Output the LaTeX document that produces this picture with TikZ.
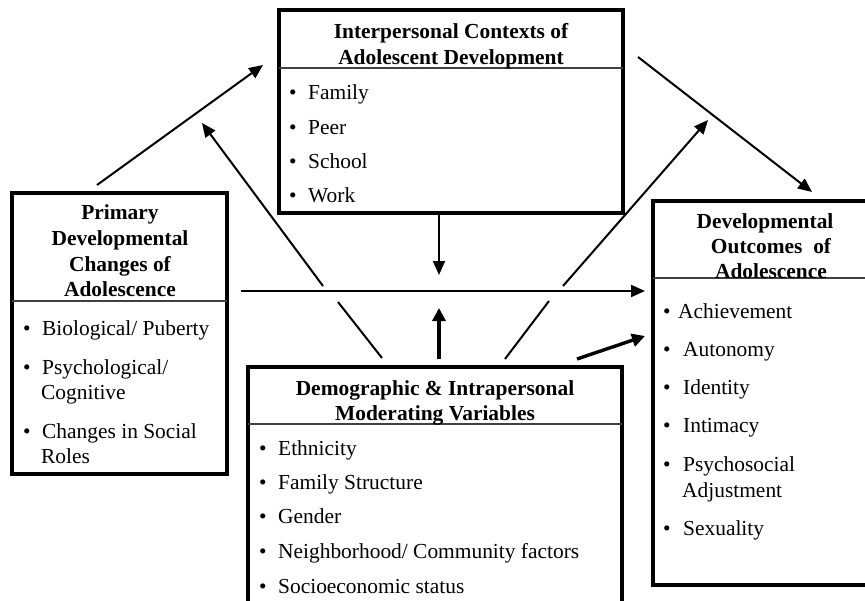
\documentclass[tikz,border=0pt]{standalone}
\usepackage{fontspec}
\setmainfont{Liberation Serif}
\usetikzlibrary{arrows.meta}

\tikzset{
  frame/.style={draw=black, line width=3.4bp, fill=white, rectangle, inner sep=0pt, outer sep=0pt, anchor=north west},
  rule/.style={draw=black!75, line width=1.2bp},
  ttl/.style={inner sep=0pt, anchor=base, font=\fontsize{21.5}{25}\selectfont\bfseries},
  itm/.style={inner sep=0pt, anchor=base west, font=\fontsize{21.5}{25}\selectfont},
  link/.style={line width=2bp, -{Triangle[length=14bp,width=12bp]}},
  plain/.style={line width=2bp},
  heavy/.style={line width=3.4bp, -{Triangle[length=13bp,width=13bp]}},
}
\newcommand{\bul}[1][19bp]{\makebox[#1][l]{\textbullet}}

\begin{document}
\begin{tikzpicture}[x=1bp, y=-1bp]
\useasboundingbox (0,0) rectangle (865,601);
\clip (0,0) rectangle (865,601);

% ---- boxes ----
\node[frame, minimum width=344bp, minimum height=203bp] (ctx) at (279,10) {};
\node[frame, minimum width=215bp, minimum height=281bp] (prim) at (12,193) {};
\node[frame, minimum width=230bp, minimum height=384bp] (outc) at (653,201) {};
\node[frame, minimum width=374bp, minimum height=260bp] (demo) at (248,367) {};

% header separators
\draw[rule] (ctx.west |- 0,68) -- (ctx.east |- 0,68);
\draw[rule] (prim.west |- 0,301) -- (prim.east |- 0,301);
\draw[rule] (outc.west |- 0,278) -- (outc.east |- 0,278);
\draw[rule] (demo.west |- 0,424) -- (demo.east |- 0,424);

% ---- interpersonal contexts ----
\node[ttl] (ctxA) at (451,39) {Interpersonal Contexts of};
\node[ttl] (ctxB) at (451,64.5) {Adolescent Development};
\node[itm] (ctx1) at (289,100) {\bul Family};
\node[itm] (ctx2) at (289,134.3) {\bul Peer};
\node[itm] (ctx3) at (289,168.6) {\bul School};
\node[itm] (ctx4) at (289,203) {\bul Work};

% ---- primary changes ----
\node[ttl] (primA) at (120,220) {Primary};
\node[ttl] (primB) at (120,245.5) {Developmental};
\node[ttl] (primC) at (120,271) {Changes of};
\node[ttl] (primD) at (120,296.5) {Adolescence};
\node[itm] (prim1) at (23,335) {\bul Biological/ Puberty};
\node[itm] (prim2) at (23,374.5) {\bul Psychological/};
\node[itm] (prim2b) at (41,399) {Cognitive};
\node[itm] (prim3) at (23,438.5) {\bul Changes in Social};
\node[itm] (prim3b) at (41,463.5) {Roles};

% ---- outcomes ----
\node[ttl] (outA) at (765,229) {Developmental};
\node[ttl] (outB) at (771,254) {Outcomes\ \ of};
\node[ttl] (outC) at (771,278.5) {Adolescence};
\node[itm] (out1) at (663,318) {\bul[15bp]Achievement};
\node[itm] (out2) at (663,356) {\bul[20bp]Autonomy};
\node[itm] (out3) at (663,394) {\bul[20bp]Identity};
\node[itm] (out4) at (663,432.5) {\bul[20bp]Intimacy};
\node[itm] (out5) at (663,471.5) {\bul[20bp]Psychosocial};
\node[itm] (out5b) at (682,497) {Adjustment};
\node[itm] (out6) at (663,535) {\bul[20bp]Sexuality};

% ---- moderating variables ----
\node[ttl] (demA) at (435,395) {Demographic \& Intrapersonal};
\node[ttl] (demB) at (435,420) {Moderating Variables};
\node[itm] (dem1) at (259,455) {\bul Ethnicity};
\node[itm] (dem2) at (259,489) {\bul Family Structure};
\node[itm] (dem3) at (259,523.5) {\bul Gender};
\node[itm] (dem4) at (259,558.5) {\bul Neighborhood/ Community factors};
\node[itm] (dem5) at (259,593.5) {\bul Socioeconomic status};

% ---- connector end points ----
\coordinate (pOut) at (97,185);
\coordinate (cIn) at (263,65);
\coordinate (cOut) at (638,57);
\coordinate (oIn) at (812,192);
\coordinate (mainS) at (241,291);
\coordinate (mainE) at (645,291);
\coordinate (downS) at (439,214);
\coordinate (downE) at (439,275);
\coordinate (upS) at (439,359);
\coordinate (upE) at (439,308);
\coordinate (lS) at (382,358);
\coordinate (lGapA) at (338,302);
\coordinate (lGapB) at (323,286);
\coordinate (lE) at (202,123);
\coordinate (rS) at (505,359);
\coordinate (rGapA) at (549,301);
\coordinate (rGapB) at (563,286);
\coordinate (rE) at (708,120);
\coordinate (dS) at (577,359);
\coordinate (dE) at (645,336);

% ---- connectors ----
\draw[link] (pOut) -- (cIn);
\draw[link] (cOut) -- (oIn);
\draw[link] (mainS) -- (mainE);
\draw[link] (downS) -- (downE);
\draw[heavy] (upS) -- (upE);
\draw[plain] (lS) -- (lGapA);
\draw[link] (lGapB) -- (lE);
\draw[plain] (rS) -- (rGapA);
\draw[link] (rGapB) -- (rE);
\draw[heavy] (dS) -- (dE);
\end{tikzpicture}
\end{document}
